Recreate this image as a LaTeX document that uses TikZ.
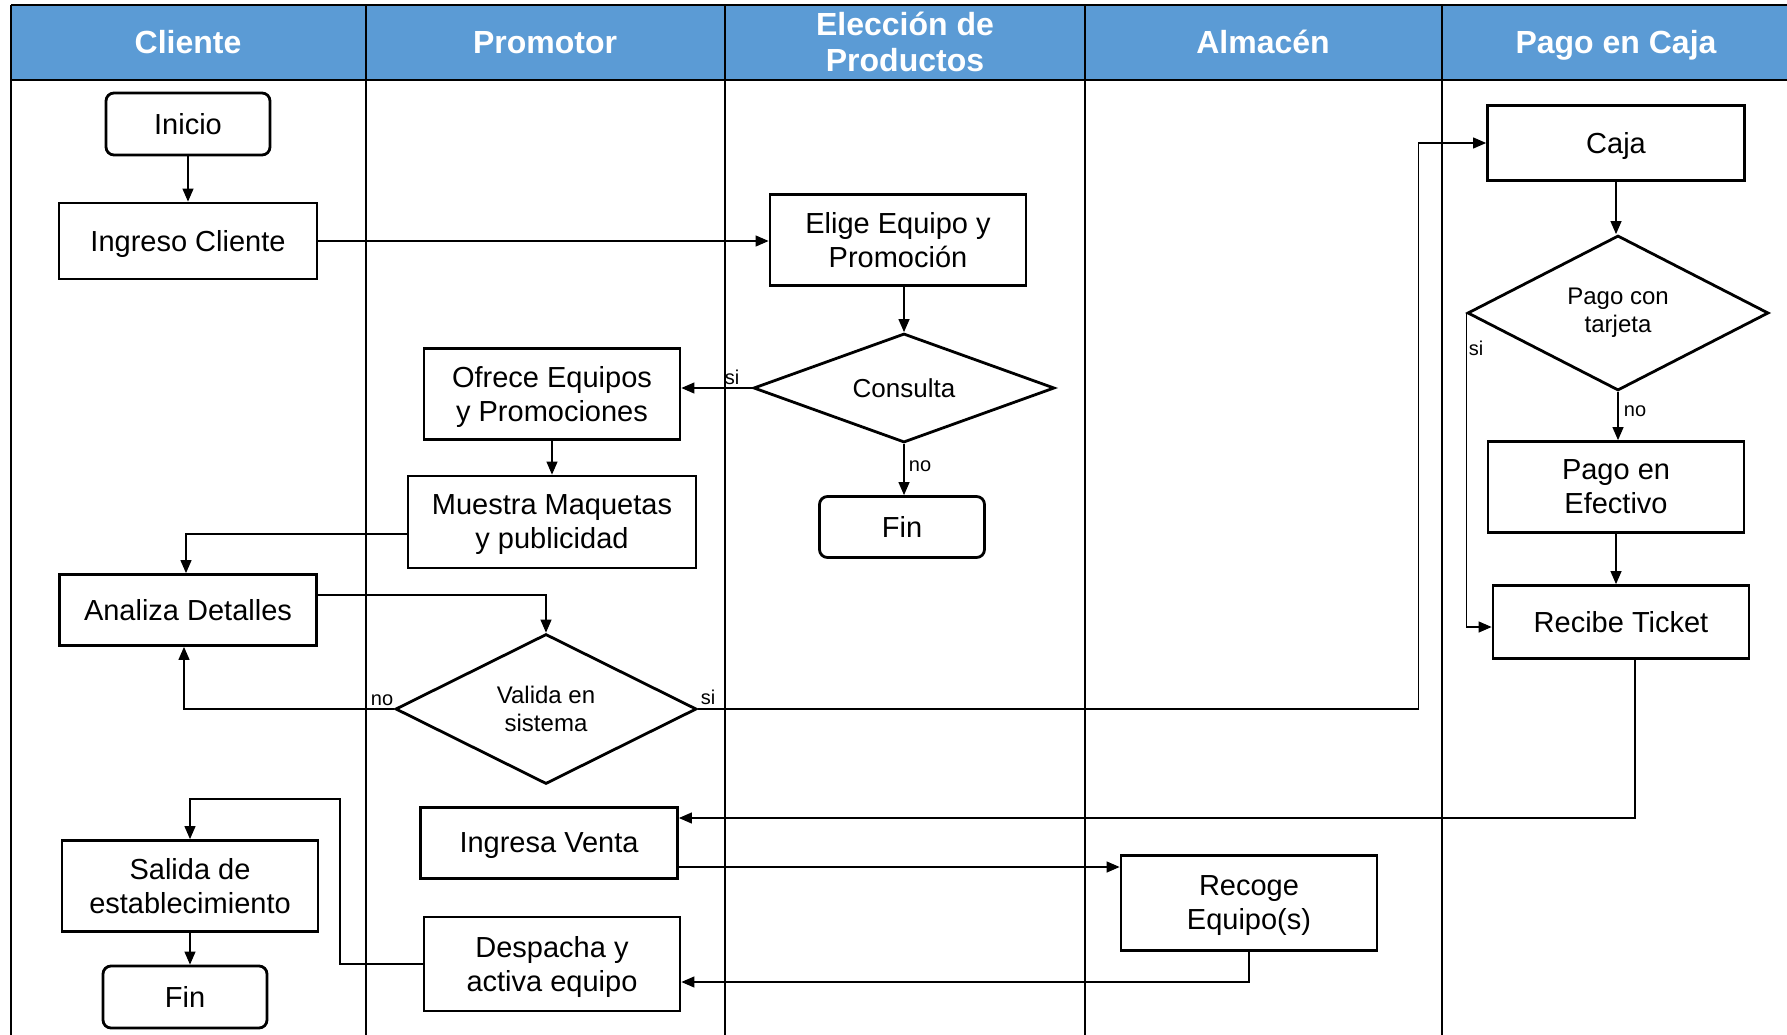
\documentclass[tikz,border=0pt]{standalone}
\usepackage{fontspec}
\setmainfont{Liberation Sans}
\usetikzlibrary{shapes.geometric,arrows.meta}
\definecolor{azulenc}{RGB}{91,155,213}

\begin{document}
\begin{tikzpicture}[x=1pt,y=-1pt,
		proceso/.style={draw, line width=2.8pt, align=center, inner sep=2pt, text depth=0pt, font=\fontsize{29}{34}\selectfont},
		terminal/.style={proceso, rounded corners=8pt},
		decision/.style={diamond, draw, line width=2.8pt, align=center, aspect=2, inner sep=1pt, minimum width=301pt, font=\fontsize{24}{28}\selectfont},
		flecha/.style={line width=1.2pt, -{Triangle[length=13pt,width=11pt]}},
		etiqueta/.style={font=\fontsize{20}{22}\selectfont, inner sep=0pt},
		encabezado/.style={text=white, align=center, text depth=0pt, font=\bfseries\fontsize{32}{36}\selectfont},
		carril/.style={line width=1.7pt}]
			\useasboundingbox (0,0) rectangle (1787,1035);
			\fill[azulenc] (11,5) rectangle (1787,80);
			\draw[carril] (11,5) -- (1787,5);
			\draw[carril] (11,80) -- (1787,80);
			\draw[carril] (11,5) -- (11,1035);
			\foreach \x in {366,725,1085,1442} \draw[carril] (\x,5) -- (\x,1035);
			\foreach \x/\t [count=\i] in {188/Cliente, 545/Promotor, 905/{Elección de\\Productos}, 1263/Almacén, 1616/Pago en Caja}
				\node[encabezado] (enc\i) at (\x,42) {\t};

			\node[terminal, minimum width=164pt, minimum height=62pt] (inicio) at (188,124) {Inicio};
			\node[proceso, minimum width=258pt, minimum height=76pt] (ingreso) at (188,241) {Ingreso Cliente};
			\node[proceso, minimum width=257pt, minimum height=71pt] (analiza) at (188,610) {Analiza Detalles};
			\node[proceso, minimum width=256pt, minimum height=91pt] (salida) at (190,886) {Salida de\\establecimiento};
			\node[terminal, minimum width=164pt, minimum height=62pt] (fin1) at (185,997) {Fin};
			\node[proceso, minimum width=256pt, minimum height=91pt] (ofrece) at (552,394) {Ofrece Equipos\\y Promociones};
			\node[proceso, minimum width=288pt, minimum height=92pt] (muestra) at (552,522) {Muestra Maquetas\\y publicidad};
			\node[decision, minimum height=150pt] (valida) at (546,709) {Valida en\\sistema};
			\node[proceso, minimum width=257pt, minimum height=71pt] (ingresa) at (549,843) {Ingresa Venta};
			\node[proceso, minimum width=256pt, minimum height=94pt] (despacha) at (552,964) {Despacha y\\activa equipo};
			\node[proceso, minimum width=256pt, minimum height=91pt] (elige) at (898,240) {Elige Equipo y\\Promoción};
			\node[decision, minimum height=109pt, font=\fontsize{26}{30}\selectfont] (consulta) at (904,388) {Consulta};
			\node[terminal, minimum width=165pt, minimum height=61pt] (fin2) at (902,527) {Fin};
			\node[proceso, minimum width=256pt, minimum height=95pt] (recoge) at (1249,903) {Recoge\\Equipo(s)};
			\node[proceso, minimum width=257pt, minimum height=75pt] (caja) at (1616,143) {Caja};
			\node[decision, minimum height=155pt] (tarjeta) at (1618,313) {Pago con\\tarjeta};
			\node[proceso, minimum width=256pt, minimum height=91pt] (efectivo) at (1616,487) {Pago en\\Efectivo};
			\node[proceso, minimum width=256pt, minimum height=73pt] (ticket) at (1621,622) {Recibe Ticket};

			\draw[flecha] (inicio) -- (ingreso);
			\draw[flecha] (ingreso.east) -- (ingreso.east -| elige.west);
			\draw[flecha] (elige.south -| consulta.north) -- (consulta.north);
			\draw[flecha] (consulta.west) -- (consulta.west -| ofrece.east);
			\draw[flecha] (consulta.south) -- (consulta.south |- fin2.north);
			\draw[flecha] (ofrece) -- (muestra);
			\draw[flecha] ([yshift=-12pt]muestra.west) -| ([xshift=-2pt]analiza.north);
			\draw[flecha] ([yshift=15pt]analiza.east) -| (valida.north);
			\draw[flecha] (valida.west) -| ([xshift=-4pt]analiza.south);
			\draw[flecha] (valida.east) -| ([xshift=-68pt]caja.west) -- (caja.west);
			\draw[flecha] (caja.south) -- (caja.south |- tarjeta.north);
			\draw[flecha] (tarjeta.south) -- (tarjeta.south |- efectivo.north);
			\draw[flecha] (tarjeta.west) |- ([yshift=-5pt]ticket.west);
			\draw[flecha] (efectivo.south) -- (efectivo.south |- ticket.north);
			\draw[flecha] ([xshift=14pt]ticket.south) |- ([yshift=25pt]ingresa.east);
			\coordinate (venta) at ([yshift=-24pt]ingresa.east);
			\draw[flecha] (venta) -- (venta -| recoge.west);
			\draw[flecha] (recoge.south) |- ([yshift=-18pt]despacha.east);
			\coordinate (retorno) at (340,799);
			\draw[flecha] (despacha.west) -| (retorno) -| (salida.north);
			\draw[flecha] (salida.south) -- (salida.south |- fin1.north);

			\node[etiqueta] (si1) at (732,377) {si};
			\node[etiqueta] (no1) at (920,466) {no};
			\node[etiqueta] (no2) at (382,700) {no};
			\node[etiqueta] (si2) at (708,697) {si};
			\node[etiqueta] (si3) at (1476,348) {si};
			\node[etiqueta] (no3) at (1635,411) {no};
		\end{tikzpicture}
\end{document}
